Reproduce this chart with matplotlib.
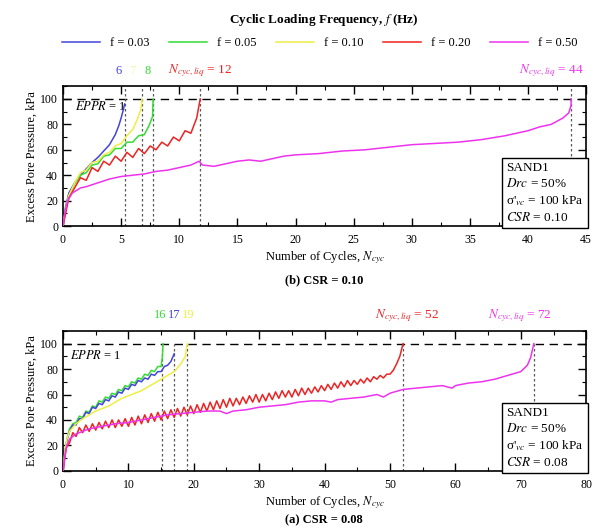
import matplotlib
matplotlib.use("Agg")
import matplotlib.pyplot as plt
from matplotlib.ticker import MultipleLocator

plt.rcParams['font.family'] = ['Liberation Serif', 'DejaVu Serif']
plt.rcParams['mathtext.fontset'] = 'stix'

# ---------------- data: (b) CSR = 0.10 ----------------
b_blue_N = [0, 0.2, 0.5, 1, 1.5, 2, 2.5, 3, 3.5, 4, 4.5, 4.8, 5.0, 5.2, 5.3]
b_blue_u = [0, 14, 26, 34, 40, 45, 50, 54, 59, 64, 72, 79, 85, 92, 96]
b_green_N = [0, 0.25, 0.5, 1, 1.5, 2, 2.5, 3, 3.5, 4, 4.5, 5, 5.5, 6, 6.5, 7, 7.4, 7.7, 7.75]
b_green_u = [0, 14, 24, 33, 40, 42, 48, 49, 55, 56, 61, 61, 66, 66, 71, 72, 79, 86, 100]
b_yellow_N = [0, 0.25, 0.5, 1, 1.5, 2, 2.5, 3, 3.5, 4, 4.5, 5, 5.5, 6, 6.4, 6.7, 6.8]
b_yellow_u = [0, 14, 24, 34, 42, 44, 50, 51, 56, 58, 63, 65, 71, 76, 84, 92, 100]
b_red_N = [0, 0.5, 1, 1.5, 2, 2.5, 3, 3.5, 4, 4.5, 5, 5.5, 6, 6.5, 7, 7.5, 8, 8.5, 9, 9.5,
           10, 10.5, 11, 11.5, 11.8]
b_red_u = [0, 22, 30, 38, 36, 46, 43, 51, 48, 55, 51, 58, 54, 61, 57, 63, 60, 66, 63, 70,
           67, 75, 73, 85, 100]
b_mag_N = [0, 0.15, 0.4, 0.8, 1.5, 2, 3, 4, 5, 6, 7, 8, 9, 10, 11, 11.7, 12, 13, 14, 15,
           16, 17, 18, 19, 20, 22, 24, 26, 28, 30, 32, 34, 36, 38, 40, 41, 42, 43, 43.5, 43.7, 43.7]
b_mag_u = [0, 10, 20, 26, 30, 31, 34, 37, 39, 40, 41, 43, 44, 46, 48, 51, 48, 47, 49, 51,
           52, 51, 53, 55, 56, 57, 59, 60, 62, 64, 65, 66, 68, 71, 75, 78, 80, 85, 89, 95, 100]
b_liq = [5.3, 7.7, 6.8, 11.8, 43.7]

# ---------------- data: (a) CSR = 0.08 ----------------
a_green_N = [0, 0.3, 0.6, 1, 1.5, 2, 2.5, 3, 3.5, 4, 4.5, 5, 5.5, 6, 6.5, 7, 7.5, 8, 8.5, 9,
             9.5, 10, 10.5, 11, 11.5, 12, 12.5, 13, 13.5, 14, 14.5, 15, 15.2, 15.3]
a_green_u = [0, 15, 25, 33, 37, 38, 43, 42, 47, 46, 51, 50, 55, 54, 58, 57, 61, 60, 64, 63,
             67, 66, 70, 69, 73, 72, 76, 75, 79, 78, 82, 82, 90, 100]
a_blue_N = [0, 0.3, 0.6, 1, 1.5, 2, 2.5, 3, 3.5, 4, 4.5, 5, 5.5, 6, 6.5, 7, 7.5, 8, 8.5, 9,
            9.5, 10, 10.5, 11, 11.5, 12, 12.5, 13, 13.5, 14, 14.5, 15, 15.5, 16, 16.5, 17]
a_blue_u = [0, 14, 24, 31, 36, 36, 41, 41, 46, 45, 50, 49, 53, 52, 56, 55, 59, 58, 62, 61,
            65, 64, 68, 67, 71, 70, 73, 72, 76, 75, 78, 78, 82, 83, 86, 92]
a_yellow_N = [0, 0.3, 0.6, 1, 2, 3, 4, 5, 6, 7, 8, 9, 10, 11, 12, 13, 14, 15, 16, 17, 18, 18.7, 19]
a_yellow_u = [0, 15, 25, 31, 37, 41, 44, 47, 49, 51, 54, 57, 59, 61, 63, 66, 69, 72, 75, 78, 84, 90, 100]
a_red_N = [0, 0.5, 1, 1.5, 2, 2.5, 3, 3.5, 4, 4.5, 5, 5.5, 6, 6.5, 7, 7.5, 8, 8.5, 9, 9.5,
           10, 10.5, 11, 11.5, 12, 12.5, 13, 13.5, 14, 14.5, 15, 15.5, 16, 16.5, 17, 17.5,
           18, 18.5, 19, 19.5, 20, 20.5, 21, 21.5, 22, 22.5, 23, 23.5, 24, 24.5, 25, 25.5,
           26, 26.5, 27, 27.5, 28, 28.5, 29, 29.5, 30, 30.5, 31, 31.5, 32, 32.5, 33, 33.5,
           34, 34.5, 35, 35.5, 36, 36.5, 37, 37.5, 38, 38.5, 39, 39.5, 40, 40.5, 41, 41.5,
           42, 42.5, 43, 43.5, 44, 44.5, 45, 45.5, 46, 46.5, 47, 47.5, 48, 48.5, 49, 49.5,
           50, 50.5, 51, 51.5, 52]
a_red_u = [0, 18, 22, 30, 27, 34, 30, 36, 31, 37, 32, 38, 33, 39, 34, 40, 34, 40, 35, 41,
           35, 42, 36, 43, 37, 44, 38, 45, 39, 46, 40, 47, 41, 48, 42, 49,
           43, 50, 44, 51, 45, 52, 46, 53, 47, 54, 48, 55, 49, 56, 50, 57,
           51, 57, 52, 58, 53, 59, 54, 60, 54, 60, 55, 61, 56, 62, 57, 63,
           58, 63, 58, 64, 59, 65, 60, 65, 61, 66, 62, 67, 63, 68, 64, 69,
           65, 70, 66, 71, 67, 71, 68, 72, 69, 73, 70, 74, 72, 75, 73, 76,
           76, 79, 84, 90, 100]
a_mag_N = [0, 0.3, 0.6, 1, 2, 4, 6, 8, 10, 12, 14, 16, 18, 20, 22, 24, 25, 26, 28, 30, 32,
           34, 36, 38, 40, 41, 42, 44, 46, 48, 49, 50, 52, 54, 56, 58, 59.5, 60, 62, 64, 66,
           68, 70, 71, 71.5, 72]
a_mag_u = [0, 12, 20, 25, 29, 33, 35, 37, 38, 40, 42, 44, 45, 46, 47, 47, 45, 47, 48, 50, 51,
           52, 54, 55, 55, 54, 56, 57, 58, 60, 58, 61, 64, 65, 66, 67, 65, 67, 69, 70, 72,
           75, 78, 83, 89, 100]
a_liq = [15.2, 17.0, 19.0, 52.0, 72.0]

freq_labels = ['f = 0.03', 'f = 0.05', 'f = 0.10', 'f = 0.20', 'f = 0.50']
colors = ['#4444dd', '#33dd33', '#eeee44', '#ee2222', '#ee33ee']

fig = plt.figure(figsize=(6, 5.32), dpi=100)
ax_b = fig.add_axes([0.105, 0.575, 0.872, 0.263])
ax_a = fig.add_axes([0.105, 0.115, 0.872, 0.263])


def style(ax, xmax, xmaj, xmin):
    ax.set_xlim(0, xmax)
    ax.set_ylim(0, 110)
    ax.xaxis.set_major_locator(MultipleLocator(xmaj))
    ax.xaxis.set_minor_locator(MultipleLocator(xmin))
    ax.yaxis.set_minor_locator(MultipleLocator(10))
    ax.set_yticks([0, 20, 40, 60, 80, 100])
    ax.tick_params(which='both', direction='in', top=True, right=True, labelsize=8.5)
    ax.tick_params(which='major', length=6, width=1)
    ax.tick_params(axis='x', which='major', pad=6)
    ax.tick_params(which='minor', length=3, width=0.8)
    for s in ax.spines.values():
        s.set_linewidth(1.2)
    ax.axhline(100, color='k', ls=(0, (6, 4)), lw=1, zorder=1)
    ax.set_ylabel('Excess Pore Pressure, kPa', fontsize=9, labelpad=2)
    ax.set_xlabel('Number of Cycles, $N_{cyc}$', fontsize=9, labelpad=2)


style(ax_b, 45, 5, 2.5)
style(ax_a, 80, 10, 5)

b_series = [(b_blue_N, b_blue_u), (b_green_N, b_green_u), (b_yellow_N, b_yellow_u),
            (b_red_N, b_red_u), (b_mag_N, b_mag_u)]
a_series = [(a_green_N, a_green_u), (a_blue_N, a_blue_u), (a_yellow_N, a_yellow_u),
            (a_red_N, a_red_u), (a_mag_N, a_mag_u)]
a_colors = [colors[1], colors[0], colors[2], colors[3], colors[4]]

handles = []
for (N, u), c, lab in zip(b_series, colors, freq_labels):
    h, = ax_b.plot(N, u, color=c, lw=1.1, zorder=3, label=lab)
    handles.append(h)
for (N, u), c in zip(a_series, a_colors):
    ax_a.plot(N, u, color=c, lw=1.1, zorder=3)

for x in b_liq:
    ax_b.vlines(x, 0, 110, colors='0.35', linestyles=(0, (2, 2)), lw=0.9, zorder=2)
for x in a_liq:
    ax_a.vlines(x, 0, 100, colors='0.35', linestyles=(0, (2, 2)), lw=0.9, zorder=2)

ax_b.text(1, 91, '$EPPR$ = 1', fontsize=9, zorder=1)
ax_a.text(1, 88, '$EPPR$ = 1', fontsize=9, zorder=1)

tb = ax_b.get_xaxis_transform()
ax_b.text(4.8, 1.09, '6', color=colors[0], ha='center', fontsize=9, transform=tb)
ax_b.text(6.0, 1.09, '7', color='#f6f6b0', ha='center', fontsize=9, transform=tb)
ax_b.text(7.3, 1.09, '8', color=colors[1], ha='center', fontsize=9, transform=tb)
ax_b.text(b_liq[3], 1.09, '$N_{cyc,liq}$ = 12', color=colors[3], ha='center', fontsize=9.5, transform=tb)
ax_b.text(42.0, 1.09, '$N_{cyc,liq}$ = 44', color=colors[4], ha='center', fontsize=9.5, transform=tb)

ta = ax_a.get_xaxis_transform()
ax_a.text(14.8, 1.09, '16', color=colors[1], ha='center', fontsize=9, transform=ta)
ax_a.text(17.0, 1.09, '17', color=colors[0], ha='center', fontsize=9, transform=ta)
ax_a.text(19.1, 1.09, '19', color=colors[2], ha='center', fontsize=9, transform=ta)
ax_a.text(52.6, 1.09, '$N_{cyc,liq}$ = 52', color=colors[3], ha='center', fontsize=9.5, transform=ta)
ax_a.text(69.8, 1.09, '$N_{cyc,liq}$ = 72', color=colors[4], ha='center', fontsize=9.5, transform=ta)

box = dict(boxstyle='square,pad=0.3', fc='white', ec='k', lw=1)
ax_b.text(0.995, 0.015, "SAND1\n$Drc$ = 50%\n\u03c3'$_{vc}$ = 100 kPa\n$CSR$ = 0.10",
          transform=ax_b.transAxes, ha='right', va='bottom', multialignment='left',
          fontsize=9.5, bbox=box, linespacing=1.3, zorder=5)
ax_a.text(0.995, 0.015, "SAND1\n$Drc$ = 50%\n\u03c3'$_{vc}$ = 100 kPa\n$CSR$ = 0.08",
          transform=ax_a.transAxes, ha='right', va='bottom', multialignment='left',
          fontsize=9.5, bbox=box, linespacing=1.3, zorder=5)

fig.text(0.54, 1 - 280 / 532, '(b) CSR = 0.10', ha='center', va='center', fontsize=9, fontweight='bold')
fig.text(0.54, 1 - 520 / 532, '(a) CSR = 0.08', ha='center', va='center', fontsize=9, fontweight='bold')

fig.text(0.54, 1 - 20 / 532, 'Cyclic Loading Frequency, $\\mathit{f}$ (Hz)', ha='center',
         va='center', fontsize=9.5, fontweight='bold')
fig.legend(handles=handles, labels=freq_labels, loc='center', bbox_to_anchor=(0.533, 1 - 43 / 532),
           ncol=5, frameon=False, fontsize=9, handlelength=3.0, columnspacing=1.6,
           handletextpad=0.8)

fig.savefig('out.png', dpi=100)
